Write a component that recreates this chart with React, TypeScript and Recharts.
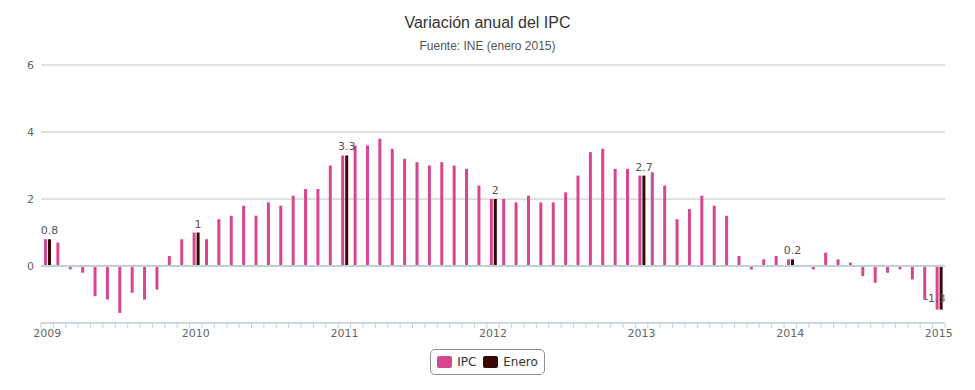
import React from "react";
import {
  BarChart, Bar, XAxis, YAxis, CartesianGrid, ReferenceLine, LabelList,
} from "recharts";

// ─── Datos ────────────────────────────────────────────────────────────────────

const years = ["2009", "2010", "2011", "2012", "2013", "2014", "2015"];
const monthNames = ["ene", "feb", "mar", "abr", "may", "jun", "jul", "ago", "sep", "oct", "nov", "dic"];

// variación anual mensual, ene 2009 – ene 2015
const ipcValues = [
  0.8, 0.7, -0.1, -0.2, -0.9, -1.0, -1.4, -0.8, -1.0, -0.7, 0.3, 0.8,
  1.0, 0.8, 1.4, 1.5, 1.8, 1.5, 1.9, 1.8, 2.1, 2.3, 2.3, 3.0,
  3.3, 3.6, 3.6, 3.8, 3.5, 3.2, 3.1, 3.0, 3.1, 3.0, 2.9, 2.4,
  2.0, 2.0, 1.9, 2.1, 1.9, 1.9, 2.2, 2.7, 3.4, 3.5, 2.9, 2.9,
  2.7, 2.8, 2.4, 1.4, 1.7, 2.1, 1.8, 1.5, 0.3, -0.1, 0.2, 0.3,
  0.2, 0.0, -0.1, 0.4, 0.2, 0.1, -0.3, -0.5, -0.2, -0.1, -0.4, -1.0,
  -1.3,
];

// dato de enero de cada año
const eneroValues = [0.8, 1, 3.3, 2, 2.7, 0.2, -1.3];

const yTicks = [0, 2, 4, 6];

const data = ipcValues.map((v, i) => ({
  label: `${monthNames[i % 12]} ${years[Math.floor(i / 12)]}`,
  ipc: v,
  enero: i % 12 === 0 ? eneroValues[i / 12] : null,
}));

// ─── Estilos ──────────────────────────────────────────────────────────────────

const PINK = "#d6478f";
const DARK = "#3a0709";
const AXIS_BLUE = "#c0d0e0";
const labelFont = "'DejaVu Sans', Verdana, sans-serif";

const legendItems = [
  { name: "IPC", color: PINK },
  { name: "Enero", color: DARK },
];

// ─── Eje X: marcas mensuales entre columnas, etiqueta en enero ────────────────

function MonthTick(props: any) {
  const { x, y, payload, index } = props;
  const half = payload.offset ?? 0;
  const isJan = index % 12 === 0;
  const isLast = index === data.length - 1;
  return (
    <g>
      <line x1={x - half} x2={x - half} y1={y} y2={y + 5} stroke={AXIS_BLUE} />
      {isLast && <line x1={x + half} x2={x + half} y1={y} y2={y + 5} stroke={AXIS_BLUE} />}
      {isJan && (
        <text x={x} y={y + 14} textAnchor="middle" fill="#666" fontSize={11} fontFamily={labelFont}>
          {years[index / 12]}
        </text>
      )}
    </g>
  );
}

// ─── Etiquetas de los valores de enero ────────────────────────────────────────

function EneroLabel(props: any) {
  const { x, y, width, height, value } = props;
  if (value === null || value === undefined) return null;
  const top = Math.min(y, y + height);
  const bottom = Math.max(y, y + height);
  if (value < 0) {
    return (
      <text x={x + width + 3} y={bottom - 8} textAnchor="end" fill="#555" fontSize={11} fontFamily={labelFont}>
        {value}
      </text>
    );
  }
  return (
    <text x={x + width / 2} y={top - 5} textAnchor="middle" fill="#555" fontSize={11} fontFamily={labelFont}>
      {value}
    </text>
  );
}

// ─── Leyenda ──────────────────────────────────────────────────────────────────

function BoxLegend() {
  return (
    <div style={{ position: "absolute", top: 349, left: 0, width: 975, textAlign: "center" }}>
      <div style={{
        display: "inline-flex",
        alignItems: "center",
        gap: 7,
        border: "1px solid #909090",
        borderRadius: 5,
        padding: "5px 6px",
        background: "#fff",
      }}>
        {legendItems.map((p) => (
          <span key={p.name} style={{ display: "inline-flex", alignItems: "center", gap: 5 }}>
            <span style={{ width: 15, height: 12, background: p.color, borderRadius: 2, display: "inline-block" }} />
            <span style={{ fontFamily: labelFont, fontSize: 12, color: "#333" }}>{p.name}</span>
          </span>
        ))}
      </div>
    </div>
  );
}

// ─── Gráfico ──────────────────────────────────────────────────────────────────

export default function App() {
  return (
    <div style={{ position: "absolute", left: 0, top: 0, width: 975, height: 390, background: "#fff" }}>
      <div style={{
        position: "absolute", top: 14, width: 975, textAlign: "center",
        fontFamily: "'Liberation Sans', Arial, sans-serif", fontSize: 16, color: "#333",
      }}>
        Variación anual del IPC
      </div>
      <div style={{
        position: "absolute", top: 39, width: 975, textAlign: "center",
        fontFamily: "'Liberation Sans', Arial, sans-serif", fontSize: 12, color: "#555",
      }}>
        Fuente: INE (enero 2015)
      </div>

      <BarChart
        width={975}
        height={390}
        data={data}
        margin={{ top: 65, right: 30, bottom: 37, left: 0 }}
        barGap={1}
      >
        <CartesianGrid vertical={false} stroke="#c0c0c0" />
        <XAxis
          dataKey="label"
          height={30}
          interval={0}
          tickLine={false}
          tickSize={0}
          tickMargin={0}
          axisLine={{ stroke: AXIS_BLUE }}
          tick={<MonthTick />}
        />
        <YAxis
          width={41}
          domain={[-1.7, 6]}
          ticks={yTicks}
          allowDataOverflow
          tickLine={false}
          axisLine={false}
          tickSize={0}
          tickMargin={7}
          tick={{ fill: "#666", fontSize: 11, fontFamily: labelFont }}
        />
        <ReferenceLine y={0} stroke={AXIS_BLUE} strokeWidth={2} />
        <Bar dataKey="ipc" name="IPC" fill={PINK} barSize={3} isAnimationActive={false} />
        <Bar dataKey="enero" name="Enero" fill={DARK} barSize={3} isAnimationActive={false}>
          <LabelList dataKey="enero" content={<EneroLabel />} />
        </Bar>
      </BarChart>

      <BoxLegend />
    </div>
  );
}
